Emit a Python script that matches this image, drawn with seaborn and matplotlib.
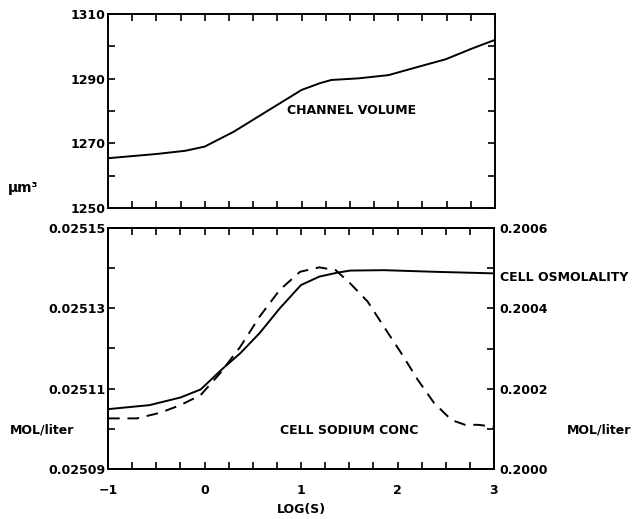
import numpy as np
import pandas as pd
import matplotlib
matplotlib.use("Agg")
import matplotlib.pyplot as plt
from matplotlib.ticker import FormatStrFormatter
import seaborn as sns

# channel volume (top panel)
LOG_S_VOL = [-1.0, -0.5, -0.2, 0.0, 0.3, 0.75, 1.0, 1.19, 1.31, 1.59, 1.9, 2.21, 2.49, 2.77, 3.0]
VOLUME = [1265.4, 1266.7, 1267.7, 1269.0, 1273.6, 1281.9, 1286.5, 1288.6, 1289.6,
          1290.1, 1291.1, 1293.7, 1296.0, 1299.4, 1302.0]

# cell osmolality (solid, right axis)
LOG_S_OSM = [-1.0, -0.57, -0.25, -0.04, 0.18, 0.37, 0.57, 0.78, 1.0, 1.19, 1.38, 1.51, 1.86, 2.38, 3.0]
OSMOLALITY = [0.200149, 0.200159, 0.200178, 0.200198, 0.200248, 0.200288, 0.200338, 0.200400,
              0.200458, 0.200479, 0.200489, 0.200494, 0.200495, 0.200491, 0.200487]

# cell sodium conc (dashed, left axis)
LOG_S_NA = [-1.0, -0.70, -0.46, -0.25, -0.04, 0.16, 0.37, 0.57, 0.78, 0.99, 1.19, 1.36, 1.51,
            1.69, 1.86, 2.04, 2.21, 2.38, 2.56, 2.70, 2.84, 3.0]
SODIUM = [0.0251026, 0.0251026, 0.0251040, 0.0251059, 0.0251084, 0.0251138, 0.0251204,
          0.0251279, 0.0251346, 0.0251391, 0.0251402, 0.0251395, 0.0251362, 0.0251317,
          0.0251254, 0.0251188, 0.0251122, 0.0251064, 0.0251022, 0.0251010, 0.0251010, 0.0251005]

VOL_TICKS = [1250, 1270, 1290, 1310]
NA_TICKS = [0.02509, 0.02511, 0.02513, 0.02515]
OSM_TICKS = [0.2000, 0.2002, 0.2004, 0.2006]
X_TICKS = [-1, 0, 1, 2, 3]

sns.set_style("ticks")
plt.rcParams.update({
    "font.family": ["DejaVu Sans"],
    "font.weight": "bold",
    "axes.labelweight": "bold",
    "font.size": 9,
    "text.color": "black",
    "axes.labelcolor": "black",
    "axes.linewidth": 1.4,
    "xtick.direction": "in",
    "ytick.direction": "in",
    "xtick.major.size": 5,
    "ytick.major.size": 5,
    "xtick.minor.size": 5,
    "ytick.minor.size": 5,
    "xtick.major.width": 1.2,
    "ytick.major.width": 1.2,
    "xtick.minor.width": 1.2,
    "ytick.minor.width": 1.2,
    "xtick.color": "black",
    "ytick.color": "black",
    "xtick.labelcolor": "black",
    "ytick.labelcolor": "black",
    "axes.edgecolor": "black",
})

fig = plt.figure(figsize=(6.38, 5.19), dpi=100)
ax_top = fig.add_axes([108 / 638, 1 - 208 / 519, 387 / 638, 194 / 519])
ax_bot = fig.add_axes([108 / 638, 1 - 469 / 519, 386 / 638, 241 / 519])
ax_r = ax_bot.twinx()

vol_df = pd.DataFrame({"logs": LOG_S_VOL, "volume": VOLUME})
osm_df = pd.DataFrame({"logs": LOG_S_OSM, "osm": OSMOLALITY})
na_df = pd.DataFrame({"logs": LOG_S_NA, "na": SODIUM})

sns.lineplot(data=vol_df, x="logs", y="volume", ax=ax_top, color="black", lw=1.4)
sns.lineplot(data=na_df, x="logs", y="na", ax=ax_bot, color="black", lw=1.4,
             linestyle=(0, (6, 4)))
sns.lineplot(data=osm_df, x="logs", y="osm", ax=ax_r, color="black", lw=1.4)

minor_x = np.arange(-1, 3.001, 0.25)

# top panel
ax_top.set_xlim(-1, 3)
ax_top.set_ylim(1250, 1310)
ax_top.set_xticks(minor_x)
ax_top.set_xticklabels([])
ax_top.set_yticks(VOL_TICKS)
ax_top.set_yticks(np.arange(1250, 1311, 10), minor=True)
ax_top.tick_params(axis="x", which="both", top=True, bottom=True)
ax_top.tick_params(axis="y", which="both", left=True, right=True, pad=1.5)
ax_top.set_xlabel("")
ax_top.set_ylabel("")
ax_top.text(0.85, 1280, "CHANNEL VOLUME", ha="left", va="center", fontsize=9)
ax_top.text(-2.04, 1256.2, "μm³", ha="left", va="center", fontsize=10, clip_on=False)

# bottom panel
ax_bot.set_xlim(-1, 3)
ax_bot.set_ylim(0.02509, 0.02515)
ax_bot.set_xticks(X_TICKS)
ax_bot.set_xticks(minor_x, minor=True)
ax_bot.set_yticks(NA_TICKS)
ax_bot.set_yticks(np.linspace(0.02509, 0.02515, 7), minor=True)
ax_bot.yaxis.set_major_formatter(FormatStrFormatter("%.5f"))
ax_bot.tick_params(axis="x", which="both", top=True, bottom=True, pad=11)
ax_bot.tick_params(axis="y", which="both", left=True, right=False, pad=1.5)
ax_bot.set_xlabel("LOG(S)", fontsize=9, fontweight="bold", labelpad=4)
ax_bot.set_ylabel("")

ax_r.set_ylim(0.2000, 0.2006)
ax_r.set_yticks(OSM_TICKS)
ax_r.set_yticks(np.linspace(0.2000, 0.2006, 7), minor=True)
ax_r.yaxis.set_major_formatter(FormatStrFormatter("%.4f"))
ax_r.tick_params(axis="y", which="both", right=True, left=False, pad=4)
ax_r.set_ylabel("")

ax_bot.text(0.78, 0.0250997, "CELL SODIUM CONC", ha="left", va="center", fontsize=9)
ax_bot.text(-2.02, 0.0250997, "MOL/liter", ha="left", va="center", fontsize=9, clip_on=False)
ax_r.text(3.06, 0.200478, "CELL OSMOLALITY", ha="left", va="center", fontsize=9, clip_on=False)
ax_r.text(3.75, 0.200097, "MOL/liter", ha="left", va="center", fontsize=9, clip_on=False)

for a in (ax_top, ax_bot, ax_r):
    for s in a.spines.values():
        s.set_visible(True)

fig.savefig("out.png", dpi=100)
